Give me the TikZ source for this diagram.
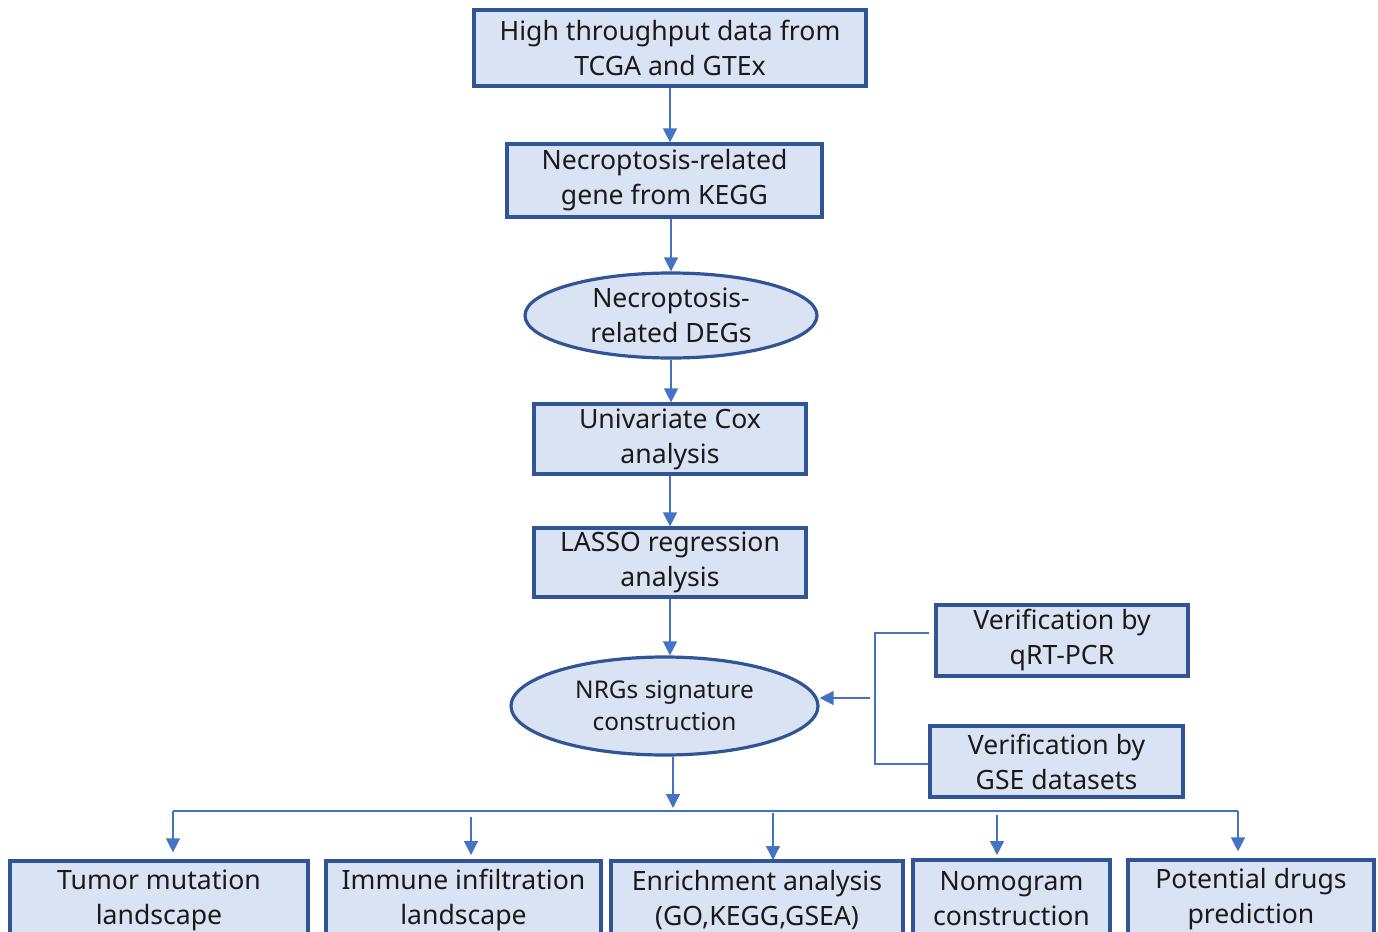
\documentclass[tikz,border=0pt]{standalone}
\usepackage{fontspec}
\setmainfont{Noto Sans}
\usetikzlibrary{arrows.meta,shapes.geometric,calc}
\definecolor{fillb}{HTML}{DAE3F3}
\definecolor{edgeb}{HTML}{2F5597}
\definecolor{lineb}{HTML}{4472C4}
\definecolor{txt}{HTML}{1A1A1A}
\begin{document}
\begin{tikzpicture}[x=0.5pt,y=-0.5pt,
 box/.style={draw=edgeb, fill=fillb, line width=1.6pt, align=center, inner sep=0pt, font=\fontsize{13.3}{17.5}\selectfont, text=txt},
 ell/.style={box, ellipse},
 arr/.style={draw=lineb, line width=0.7pt, -{Triangle[width=7pt,length=7pt]}},
 ln/.style={draw=lineb, line width=0.7pt}]
\useasboundingbox (0,0) rectangle (1378,932);
\node[box, minimum width=196pt, minimum height=38pt] (n1) at (670,48) {High throughput data from\\TCGA and GTEx};
\node[box, minimum width=157.5pt, minimum height=36.5pt] (n2) at (664.5,180.5) {Necroptosis-related\\gene from KEGG};
\node[ell, minimum width=146pt, minimum height=42.5pt] (n3) at (671,315.5) {Necroptosis-\\related DEGs};
\node[box, minimum width=136pt, minimum height=35pt] (n4) at (670,439) {Univariate Cox\\analysis};
\node[box, minimum width=136pt, minimum height=34.5pt] (n5) at (670,562.5) {LASSO regression\\analysis};
\node[ell, minimum width=153.5pt, minimum height=49pt, font=\fontsize{12.2}{16}\selectfont] (n6) at (664.5,706) {NRGs signature\\construction};
\node[box, minimum width=126pt, minimum height=35.5pt] (va) at (1062,640.5) {Verification by\\qRT-PCR};
\node[box, minimum width=126.5pt, minimum height=35.5pt] (vb) at (1056.5,761.5) {Verification by\\GSE datasets};
\node[box, minimum width=149pt, minimum height=39pt] (b1) at (159,900) {Tumor mutation\\landscape};
\node[box, minimum width=137.5pt, minimum height=39pt] (b2) at (463.5,900) {Immune infiltration\\landscape};
\node[box, minimum width=146pt, minimum height=39pt] (b3) at (757,900) {Enrichment analysis\\(GO,KEGG,GSEA)};
\node[box, minimum width=98.5pt, minimum height=39pt] (b4) at (1011.5,899) {Nomogram\\construction};
\node[box, minimum width=123pt, minimum height=39pt] (b5) at (1251,899) {Potential drugs\\prediction};
% main chain
\draw[arr] (n1.south) -- (n1.south |- n2.north);
\draw[arr] (n3.north |- n2.south) -- (n3.north);
\draw[arr] (n3.south) -- (n3.south |- n4.north);
\draw[arr] (n4.south) -- (n4.south |- n5.north);
\draw[arr] (n5.south) -- (n5.south |- n6.north);
% branch
\coordinate (bl) at (173,811);
\coordinate (br) at (1238,811);
\coordinate (bj) at (875,698);
\draw[arr] ($(n6.south)+(8.5,0)$) -- ($(n6.south |- bl)+(8.5,-3)$);
\draw[ln] (bl) -- (br);
\draw[arr, shorten >=3.5pt] (bl) -- (bl |- b1.north);
\draw[arr, shorten >=3.5pt] (471,817) -- (471,862);
\draw[arr, shorten >=1pt] (773,813) -- (773,862);
\draw[arr, shorten >=3.5pt] (997,815) -- (997,862);
\draw[arr, shorten >=3.5pt] (br) -- (br |- b5.north);
% verification bracket
\draw[ln] ($(va.west)+(-5,-7.5)$) -| (bj) |- ($(vb.west)+(0,2.5)$);
\draw[arr] ($(bj)+(-5,0)$) -- (n6.east |- bj);
\end{tikzpicture}
\end{document}
